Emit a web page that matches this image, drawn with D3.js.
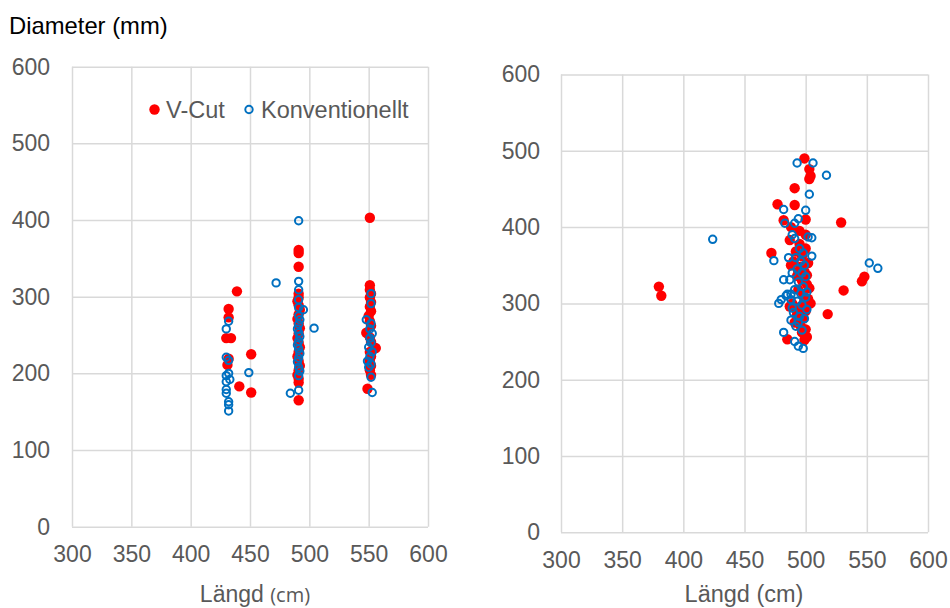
<!DOCTYPE html>
<html>
<head>
<meta charset="utf-8">
<script src="https://cdn.jsdelivr.net/npm/d3@7/dist/d3.min.js"></script>
<style>
  html, body { margin: 0; padding: 0; background: #fff; }
  svg { display: block; }
  text { font-family: "Liberation Sans", Arial, sans-serif; }
</style>
</head>
<body>
<script>
// Shared tick values for both panels
const xTickValues = [300, 350, 400, 450, 500, 550, 600];
const yTickValues = [0, 100, 200, 300, 400, 500, 600];

const seriesNames = ["V-Cut", "Konventionellt"];

// Left panel: [längd, diameter]
const leftVCut = [
  [432,284],[432,273],[430,246],[434,246],[432,219],[431,211],
  [439,307],[441,183],[451,225],[451,175],
  [491,361],[491,357],[491,339],[491,304],[491,299],[490,294],[491,289],[492,283],
  [491,277],[490,271],[491,265],[492,259],[491,252],[490,246],[491,240],[492,234],
  [491,228],[490,222],[491,216],[492,210],[491,204],[490,198],[491,193],[491,188],[491,165],
  [551,403],[551,315],[551,309],[552,304],[551,299],[552,293],[551,287],[552,281],
  [550,275],[551,268],[552,262],[548,253],[551,247],[552,241],[556,233],[551,228],
  [552,222],[551,216],[552,210],[551,204],[552,198],[549,180]
];
const leftKonv = [
  [432,268],[430,258],[430,221],[432,217],[432,200],[430,197],[433,192],[430,189],
  [430,179],[430,174],[432,163],[432,159],[432,151],
  [449,201],[472,318],[484,174],[491,178],[504,259],[495,283],
  [491,399],[491,320],[491,309],[491,296],[491,286],[491,275],[492,270],[491,264],
  [490,258],[491,253],[492,248],[491,242],[490,237],[491,232],[492,226],[491,220],
  [490,215],[491,208],[492,203],[491,197],
  [552,304],[552,291],[548,270],[552,265],[551,258],[553,252],[551,246],[552,240],
  [550,234],[553,228],[551,222],[549,216],[552,212],[550,208],[552,195],[553,175]
];

// Right panel: [längd, diameter]
const rightVCut = [
  [499,490],[503,476],[504,467],[503,463],[491,451],[477,430],[491,429],[482,409],
  [500,410],[529,406],[488,400],[495,395],[500,390],[487,383],[472,366],[500,372],
  [502,353],[380,322],[382,310],[548,335],[546,329],[531,317],[518,286],[485,253],
  [501,256],[499,252],[497,262],
  [495,378],[492,368],[497,362],[490,355],[496,348],[499,342],[493,336],[497,330],
  [501,325],[494,318],[498,312],[502,306],[489,300],[496,296],[500,290],[493,285],
  [498,280],[491,275],[496,270],[500,266],[494,342],[503,320],[487,296],[499,304],
  [492,292],[504,300],[488,350],[501,337]
];
const rightKonv = [
  [493,484],[506,484],[517,468],[503,443],[482,423],[500,422],[483,405],[491,405],
  [494,411],[424,384],[489,390],[491,385],[502,387],[505,386],[474,356],[505,362],
  [552,353],[559,346],[482,331],[487,331],[478,300],[480,305],[485,312],[488,312],
  [489,294],[482,262],[491,250],[494,244],[498,241],[488,278],[494,275],
  [495,372],[498,366],[492,360],[496,355],[499,350],[493,345],[497,340],[500,335],
  [494,328],[498,322],[491,318],[496,313],[500,308],[493,303],[497,298],[501,292],
  [490,288],[495,283],[499,280],[492,270],[497,265],[486,360],[489,340],[484,310],
  [488,305],[501,315]
];

const RED = "#FF0000";
const BLUE = "#0070C0";
const GRID = "#D9D9D9";
const TICK_TEXT = "#595959";
const FONT_SIZE = 23;

const svg = d3.select("body").append("svg")
  .attr("width", 950)
  .attr("height", 608);

function drawPanel(p) {
  const x = d3.scaleLinear().domain([300, 600]).range([p.left, p.right]);
  const y = d3.scaleLinear().domain([0, 600]).range([p.bottom, p.top]);
  const g = svg.append("g");

  // vertical grid + x tick labels
  const xAxis = g.append("g")
    .attr("transform", `translate(0,${p.bottom})`)
    .call(d3.axisBottom(x).tickValues(xTickValues).tickFormat(d3.format("d"))
      .tickSize(-(p.bottom - p.top)).tickPadding(19));
  // horizontal grid + y tick labels
  const yAxis = g.append("g")
    .attr("transform", `translate(${p.left},0)`)
    .call(d3.axisLeft(y).tickValues(yTickValues).tickFormat(d3.format("d"))
      .tickSize(-(p.right - p.left)).tickPadding(p.yPad));

  [xAxis, yAxis].forEach(a => {
    a.select(".domain").remove();
    a.selectAll(".tick line").attr("stroke", GRID).attr("stroke-width", 1.5);
    a.selectAll(".tick text")
      .attr("fill", TICK_TEXT)
      .style("font-size", FONT_SIZE + "px")
      .style("font-family", "'Liberation Sans', Arial, sans-serif");
  });

  // markers
  g.append("g").selectAll("circle")
    .data(p.vcut).join("circle")
    .attr("cx", d => x(d[0])).attr("cy", d => y(d[1]))
    .attr("r", 5.2).attr("fill", RED);

  g.append("g").selectAll("circle")
    .data(p.konv).join("circle")
    .attr("cx", d => x(d[0])).attr("cy", d => y(d[1]))
    .attr("r", 3.7).attr("fill", "none")
    .attr("stroke", BLUE).attr("stroke-width", 2);

  return { x, y, g };
}

const left = drawPanel({ left: 72, right: 428, top: 66.7, bottom: 526.7, yPad: 22,
  vcut: leftVCut, konv: leftKonv });
const right = drawPanel({ left: 561, right: 928, top: 74.5, bottom: 532.3, yPad: 21,
  vcut: rightVCut, konv: rightKonv });

// y-axis title (left panel)
svg.append("text")
  .attr("x", 9).attr("y", 34)
  .attr("fill", "#000")
  .style("font-size", "23.8px")
  .text("Diameter (mm)");

// x-axis titles
const lt = svg.append("text")
  .attr("x", 255).attr("y", 602)
  .attr("text-anchor", "middle")
  .attr("fill", TICK_TEXT)
  .style("font-size", FONT_SIZE + "px");
lt.append("tspan").text("Längd ");
lt.append("tspan").style("font-family", "'Open Sans', sans-serif").style("font-size", "20px").text("(cm)");

svg.append("text")
  .attr("x", 744).attr("y", 601.5)
  .attr("text-anchor", "middle")
  .attr("fill", TICK_TEXT)
  .style("font-size", "23.5px")
  .text("Längd (cm)");

// legend inside the left panel
const legend = svg.append("g").attr("transform", "translate(0,109.5)");
legend.append("circle").attr("cx", 154.5).attr("cy", 0).attr("r", 5.2).attr("fill", RED);
legend.append("text").attr("x", 166).attr("y", 8.3)
  .attr("fill", TICK_TEXT).style("font-size", "23.5px").text(seriesNames[0]);
legend.append("circle").attr("cx", 249).attr("cy", 0).attr("r", 3.7)
  .attr("fill", "none").attr("stroke", BLUE).attr("stroke-width", 2);
legend.append("text").attr("x", 261).attr("y", 8.3)
  .attr("fill", TICK_TEXT).style("font-size", "23.5px").text(seriesNames[1]);
</script>
</body>
</html>
